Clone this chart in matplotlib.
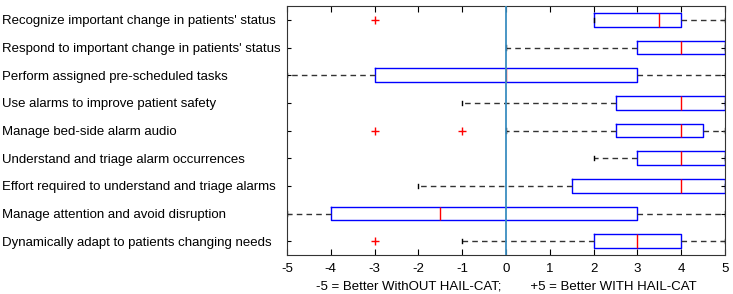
import numpy as np
import matplotlib
matplotlib.use("Agg")
import matplotlib.pyplot as plt

plt.rcParams['font.family'] = ['Liberation Sans', 'DejaVu Sans']

# survey items, top to bottom
items = [
    "Recognize important change in patients' status",
    "Respond to important change in patients' status",
    "Perform assigned pre-scheduled tasks",
    "Use alarms to improve patient safety",
    "Manage bed-side alarm audio",
    "Understand and triage alarm occurrences",
    "Effort required to understand and triage alarms",
    "Manage attention and avoid disruption",
    "Dynamically adapt to patients changing needs",
]
whislo = [2, 0, -5, -1, 0, 2, -2, -5, -1]
q1 = [2, 3, -3, 2.5, 2.5, 3, 1.5, -4, 2]
med = [3.5, 4, 0, 4, 4, 4, 4, -1.5, 3]
q3 = [4, 5, 3, 5, 4.5, 5, 5, 3, 4]
whishi = [5, 5, 5, 5, 5, 5, 5, 5, 5]
fliers = [[-3], [], [], [], [-3, -1], [], [], [], [-3]]
xticks = [-5, -4, -3, -2, -1, 0, 1, 2, 3, 4, 5]

stats = []
for i in range(len(items)):
    stats.append(dict(label=items[i], whislo=whislo[i], q1=q1[i], med=med[i],
                      q3=q3[i], whishi=whishi[i], fliers=fliers[i]))

fig = plt.figure(figsize=(7.33, 2.94), dpi=100)
ax = fig.add_axes([287/733, 1 - 255/294, (725-287)/733, (255-6)/294])

pos = np.arange(1, len(items) + 1)
ax.bxp(stats, positions=pos, vert=False, widths=0.5,
       boxprops=dict(color='#0000ff', linewidth=1.0),
       medianprops=dict(color='#ff0000', linewidth=1.0),
       whiskerprops=dict(color='#333333', linestyle=(0, (4, 3)), linewidth=1.0),
       capprops=dict(color='#000000', linewidth=1.0),
       capwidths=0.15,
       flierprops=dict(marker='+', markeredgecolor='#ff0000', markersize=6,
                       linestyle='none'))

# zero line on top of the boxes
ax.axvline(0, color='#3a8dc0', linewidth=1.3, zorder=5)

ax.set_xlim(-5, 5)
ax.set_ylim(len(items) + 0.5, 0.5)
ax.set_xticks(xticks)
ax.set_xticklabels([str(t) for t in xticks], fontsize=9.5)
ax.set_yticks(pos)
ax.set_yticklabels(items, fontsize=9.5)
for lab in ax.get_yticklabels():
    lab.set_horizontalalignment('left')
ax.tick_params(axis='y', pad=205, length=3, direction='in', left=True, right=True)
ax.tick_params(axis='x', length=4, direction='in', top=True, bottom=True, pad=6)
for s in ax.spines.values():
    s.set_color('#333333')
    s.set_linewidth(0.8)
ax.set_xlabel('-5 = Better WithOUT HAIL-CAT;        +5 = Better WITH HAIL-CAT',
              fontsize=9.5, labelpad=4)

fig.savefig('out.png', dpi=100)
